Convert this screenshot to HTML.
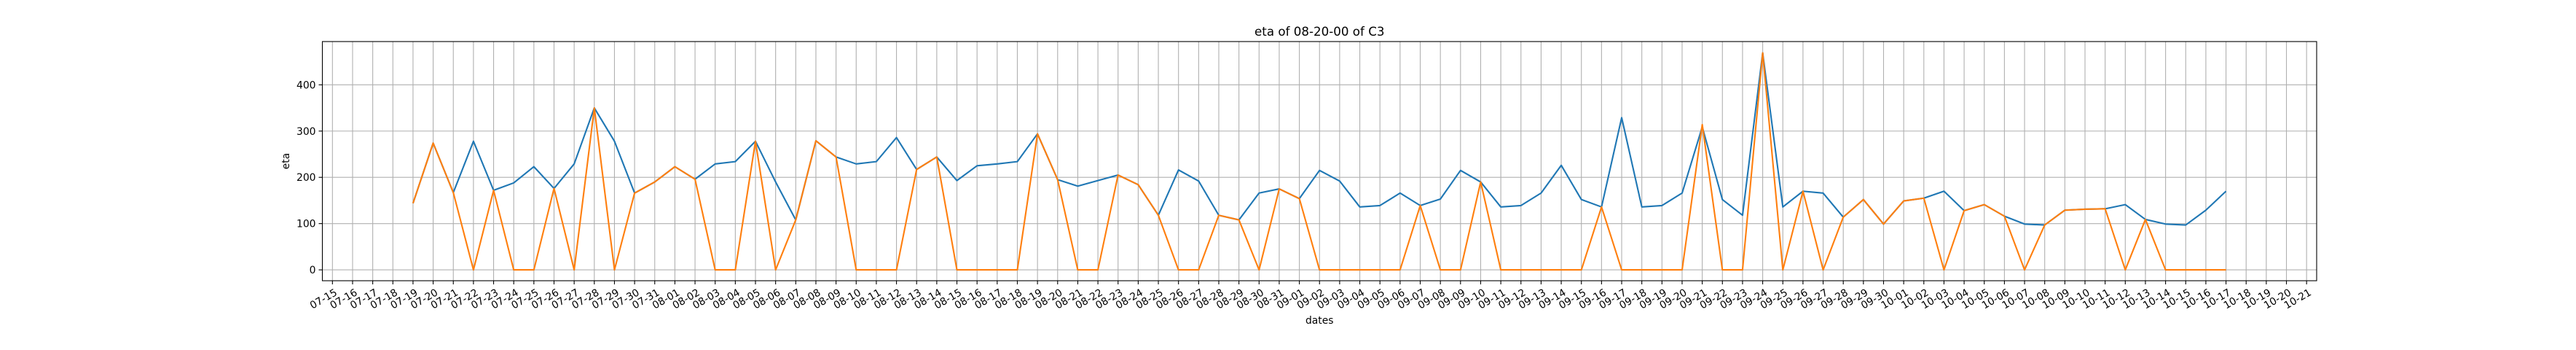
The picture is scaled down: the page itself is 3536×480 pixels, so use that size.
<!DOCTYPE html>
<html><head><meta charset="utf-8"><style>
html,body{margin:0;padding:0;background:#fff;}
svg{display:block;font-family:"DejaVu Sans","Liberation Sans",sans-serif;}
</style></head><body>
<svg id="chart" width="3536" height="480" viewBox="0 0 3536 480"></svg>
<script>
const startDate = "07-19";
const tickLabels = ["07-15","07-16","07-17","07-18","07-19","07-20","07-21","07-22","07-23","07-24","07-25","07-26","07-27","07-28","07-29","07-30","07-31","08-01","08-02","08-03","08-04","08-05","08-06","08-07","08-08","08-09","08-10","08-11","08-12","08-13","08-14","08-15","08-16","08-17","08-18","08-19","08-20","08-21","08-22","08-23","08-24","08-25","08-26","08-27","08-28","08-29","08-30","08-31","09-01","09-02","09-03","09-04","09-05","09-06","09-07","09-08","09-09","09-10","09-11","09-12","09-13","09-14","09-15","09-16","09-17","09-18","09-19","09-20","09-21","09-22","09-23","09-24","09-25","09-26","09-27","09-28","09-29","09-30","10-01","10-02","10-03","10-04","10-05","10-06","10-07","10-08","10-09","10-10","10-11","10-12","10-13","10-14","10-15","10-16","10-17","10-18","10-19","10-20","10-21"];
const yTicks = [0,100,200,300,400];
const blueValues = [144,274,167,278,172,188,223,176,229,350,278,166,190,
223,196,229,234,278,190,108,279,244,229,234,286,217,244,193,225,229,234,294,195,181,193,205,184,118,216,192,118,108,166,175,
154,215,192,136,139,166,139,153,215,190,136,139,166,226,152,136,329,136,139,166,309,152,118,469,136,170,166,114,152,99,
149,155,170,128,141,116,99,97,129,131,132,141,109,99,97,129,170];
const orangeValues = [144,274,167,0,172,0,0,176,0,350,0,166,190,
223,196,0,0,278,0,108,279,244,0,0,0,217,244,0,0,0,0,294,195,0,0,205,184,118,0,0,118,108,0,175,
154,0,0,0,0,0,139,0,0,190,0,0,0,0,0,136,0,0,0,0,314,0,0,469,0,170,0,114,152,99,
149,155,0,128,141,116,0,97,129,131,132,0,109,0,0,0,0];

const NS="http://www.w3.org/2000/svg";
const svg=document.getElementById('chart');
const L=442.5,R=3180,T=57,B=385;
const xMin=-0.5,xMax=tickLabels.length-0.5;
const yMin=-23.5,yMax=493.5;
const startIdx=tickLabels.indexOf(startDate);
function xs(d){return L+(d-xMin)/(xMax-xMin)*(R-L);}
function ys(v){return B-(v-yMin)/(yMax-yMin)*(B-T);}
function el(tag,attrs,parent){const e=document.createElementNS(NS,tag);for(const k in attrs)e.setAttribute(k,attrs[k]);(parent||svg).appendChild(e);return e;}

const grid=el('g',{});


tickLabels.forEach((lab,i)=>{
  const x=xs(i);
  const g=el('line',{x1:x,x2:x,y1:T,y2:B,stroke:'#b0b0b0','stroke-width':1.1},grid);
  
  
  const t=el('line',{x1:x,x2:x,y1:B,y2:B+5,stroke:'#000','stroke-width':1.1});
  
  
  const tx=el('text',{x:x+3,y:B+20,'font-size':13.9,'text-anchor':'end',transform:`rotate(-30 ${x+3} ${B+11})`});
  tx.textContent=lab;
  
  
});
yTicks.forEach(v=>{
  const y=ys(v);
  const g=el('line',{x1:L,x2:R,y1:y,y2:y,stroke:'#b0b0b0','stroke-width':1.1},grid);
  
  
  const t=el('line',{x1:L-5,x2:L,y1:y,y2:y,stroke:'#000','stroke-width':1.1});
  
  
  const tx=el('text',{x:L-9,y:y+5,'font-size':13.9,'text-anchor':'end'});
  tx.textContent=v;
  
  
});
function series(vals,color,name){
  const pts=vals.map((v,i)=>xs(startIdx+i).toFixed(2)+','+ys(v).toFixed(2)).join(' ');
  const p=el('polyline',{points:pts,fill:'none',stroke:color,'stroke-width':2.1,'stroke-linejoin':'round'});
  
  
}
series(blueValues,'#1f77b4','eta-series-blue');
series(orangeValues,'#ff7f0e','eta-series-orange');
const frame=el('rect',{x:L,y:T,width:R-L,height:B-T,fill:'none',stroke:'#000','stroke-width':1.1});


const title=el('text',{x:(L+R)/2,y:49,'font-size':16.7,'text-anchor':'middle'});
title.textContent='eta of 08-20-00 of C3';


const xl=el('text',{x:(L+R)/2,y:444,'font-size':13.9,'text-anchor':'middle'});
xl.textContent='dates';


const yl=el('text',{x:0,y:0,'font-size':13.9,'text-anchor':'middle',transform:`translate(397 ${(T+B)/2}) rotate(-90)`});
yl.textContent='eta';


</script>
</body></html>
